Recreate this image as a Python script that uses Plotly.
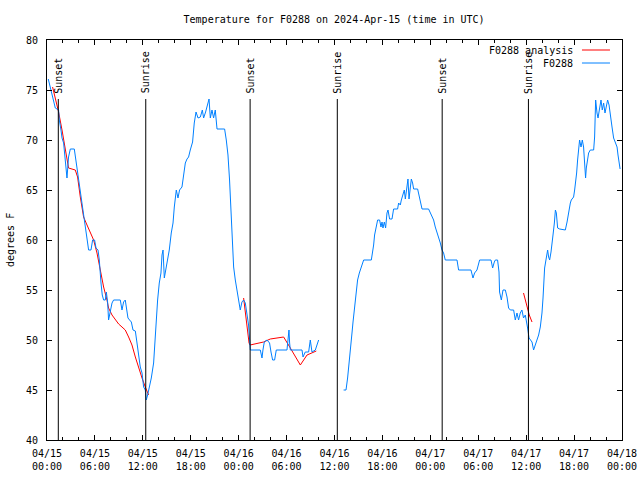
import pandas as pd
import plotly.graph_objects as go

START = pd.Timestamp("2024-04-15 00:00")

# Observed temperature (hours after 2024-04-15 00:00 UTC, degrees F); None = gap
obs_hours = [0.16, 0.41, 0.83, 1.04, 1.45, 1.54, 1.75, 1.88, 2.08, 2.29, 2.50, 2.70, 2.92, 3.42, 3.67,
             3.83, 4.08, 4.26, 4.51, 4.71, 4.92, 5.01, 5.21, 5.51, 5.71, 5.96, 6.14, 6.39, 6.55, 6.76,
             6.92, 7.09, 7.30, 7.43, 7.59, 7.71, 7.93, 8.14, 8.34, 9.18, 9.39, 9.59, 9.80, 9.93, 10.14,
             10.34, 10.56, 10.77, 11.06, 11.27, 11.47, 11.68, 11.90, 12.10, 12.31, 12.43, 12.60, 12.81,
             13.06, 13.35, 13.50, 13.65, 13.85, 14.06, 14.27, 14.40, 14.53, 14.69, 14.81, 15.03, 15.31,
             15.56, 15.78, 15.94, 16.19, 16.40, 16.60, 16.90, 17.11, 17.32, 17.53, 17.73, 17.94, 18.23,
             18.44, 18.66, 18.91, 19.20, 19.45, 19.61, 19.86, 20.04, 20.29, 20.45, 20.66, 20.86, 21.07,
             21.29, 22.24, 22.45, 22.66, 22.86, 23.04, 23.20, 23.37, 23.58, 23.79, 23.99, 24.20, 24.41,
             24.62, 24.83, 25.04, 25.24, 25.37, 25.46, 26.71, 26.92, 27.04, 27.21, 27.55, 27.87, 28.05,
             28.25, 28.50, 28.71, 30.05, 30.18, 30.30, 30.38, 30.47, 31.93, 32.06, 32.34, 32.76, 32.97,
             33.18, 33.60, 33.81, 34.01,
             None,
             37.14, 37.44, 37.64, 37.85, 38.07, 38.19, 38.32, 38.48, 38.61, 38.73, 38.89, 39.11, 39.32,
             39.52, 39.65, 40.61, 40.77, 40.90, 41.02, 41.20, 41.40, 41.65, 41.82, 41.95, 42.07, 42.24,
             42.40, 42.57, 42.70, 42.90, 43.20, 43.40, 43.90, 44.03, 44.24, 44.37, 44.58, 44.74, 44.87,
             45.08, 45.20, 45.33, 45.49, 45.62, 45.78, 45.91, 46.41, 46.53, 46.74, 46.96, 47.78, 48.00,
             48.21, 48.41, 48.62, 48.83, 49.04, 49.25, 49.46, 49.66, 49.87, 51.34, 51.54, 53.09, 53.34,
             53.54, 53.84, 54.17, 55.60, 55.80, 56.01, 56.14, 56.42, 56.60, 56.67, 56.89, 57.10, 57.39,
             57.60, 57.80, 58.02, 58.43, 58.64, 58.85, 59.05, 59.26, 59.47, 59.67, 59.89, 60.01, 60.18,
             60.36, 60.52, 60.73, 60.93, 61.14, 61.36, 61.56, 61.77, 61.98, 62.11, 62.19, 62.31, 62.52,
             62.69, 62.81, 62.94, 63.11, 63.24, 63.36, 63.53, 63.66, 63.78, 63.94, 64.19, 64.90, 65.12,
             65.24, 65.37, 65.53, 65.65, 65.78, 65.94, 66.07, 66.19, 66.32, 66.44, 66.57, 66.69, 66.87,
             67.03, 67.19, 67.32, 67.44, 67.53, 67.69, 67.82, 68.03, 68.45, 68.57, 68.70, 68.87, 69.00,
             69.16, 69.37, 69.53, 69.70, 69.87, 70.04, 70.20, 70.38, 70.54, 70.75, 70.95, 71.17, 71.38,
             71.50, 71.63, 71.76]
obs_temps = [76.1, 75.3, 74.0, 73.2, 73.0, 72.0, 71.0, 70.2, 69.7, 67.7, 66.2, 68.3, 69.1, 69.1, 67.7,
             66.7, 65.5, 64.7, 63.3, 61.7, 60.8, 60.0, 59.0, 59.0, 60.0, 60.0, 59.2, 59.0, 58.0, 55.7,
             54.5, 54.0, 54.0, 54.8, 53.8, 52.0, 52.8, 53.7, 54.0, 54.0, 53.0, 53.8, 54.0, 53.3, 52.2,
             52.0, 51.8, 51.0, 50.9, 49.7, 48.7, 47.3, 46.7, 45.3, 45.0, 44.0, 44.5, 45.2,
             46.2, 47.7, 50.0, 51.3, 54.0, 55.7, 56.7, 58.5, 59.0, 56.2, 56.7, 58.0, 59.0,
             60.7, 61.7, 63.3, 65.0, 64.2, 65.0, 65.3, 66.3, 67.7, 68.1, 68.3, 69.0, 69.8,
             71.7, 72.8, 72.2, 72.3, 73.0, 72.2, 72.8, 73.3, 74.1, 72.2, 73.0, 72.2, 73.0,
             71.1, 71.1, 70.0, 68.5, 66.0, 62.3, 59.0, 57.3, 56.0, 55.0, 54.0, 53.0, 53.8,
             54.0, 53.7, 52.7, 51.5, 50.0, 49.0, 49.0, 48.2, 49.0, 49.8, 50.0, 49.7, 48.8,
             48.0, 48.0, 49.0, 49.0, 50.3, 51.0, 49.7, 49.0, 49.0, 48.3, 48.8, 48.8, 50.0,
             48.8, 49.0, 49.5, 50.0,
             None,
             45.0, 45.0, 46.2, 47.7, 49.2, 50.7, 51.8, 53.2, 54.3, 55.3, 56.0, 56.7, 57.3,
             57.8, 58.0, 58.0, 58.7, 59.5, 60.5, 61.3, 62.0, 62.0, 61.3, 61.8, 61.2, 61.8,
             61.2, 62.7, 63.0, 62.1, 62.1, 63.1, 63.1, 63.7, 63.5, 64.0, 64.7, 65.0, 64.1,
             65.3, 66.1, 64.1, 65.5, 66.1, 65.7, 65.1, 65.1, 64.7, 63.8, 63.1, 63.1, 62.7,
             62.3, 62.0, 61.3, 60.8, 60.3, 59.7, 59.0, 58.7, 58.0, 58.0, 57.0, 57.0, 56.2,
             56.7, 57.0, 58.0, 58.0, 57.2, 57.8, 58.0, 58.0, 56.8, 54.8, 54.0, 55.0, 55.0,
             54.3, 53.2, 53.0, 53.0, 52.0, 52.7, 52.0, 52.7, 53.0, 52.2, 52.5, 51.7, 51.2,
             50.2, 50.0, 49.8, 49.0, 49.5, 50.0, 50.5, 51.3, 52.7, 54.2, 55.7, 57.2, 58.2,
             59.0, 58.3, 58.0, 58.8, 59.5, 60.5, 61.7, 63.0, 62.7, 61.2, 61.1, 61.0, 61.8,
             62.5, 62.8, 63.7, 64.0, 64.2, 64.3, 65.0, 65.7, 66.7, 68.0, 69.3, 70.0, 69.3,
             70.0, 69.3, 67.2, 66.2, 67.2, 68.0, 68.7, 69.0, 69.0, 70.3, 74.0, 72.7, 72.2,
             73.0, 74.0, 73.0, 73.7, 72.7, 73.3, 74.0, 73.5, 72.3, 71.3, 70.2, 69.7, 69.3,
             68.5, 67.7, 67.1]

# Analysis (smoothed) temperature
ana_hours = [0.70, 1.45, 1.88, 2.29, 2.70, 3.54, 3.83, 4.17, 4.58, 5.01, 5.63, 5.84, 6.26, 6.67, 7.09,
             7.51, 7.71, 8.14, 8.55, 8.97, 9.39, 9.80, 10.22, 10.64, 11.06, 11.47, 11.90, 12.31, 12.60,
             12.72,
             None,
             24.62, 25.04, 25.30, 25.43, 27.12, 27.96, 29.63, 30.47, 31.72, 32.56, 33.72,
             None,
             59.67, 60.10, 60.39, 60.73]
ana_temps = [75.3, 72.8, 71.0, 69.0, 67.2, 67.0, 66.3, 64.3, 62.3, 61.5, 60.3, 60.0, 58.7, 57.0, 55.3,
             54.0, 53.2, 52.5, 52.0, 51.6, 51.3, 51.0, 50.3, 49.5, 48.3, 47.2, 46.2, 45.3, 44.7,
             44.5,
             None,
             54.2, 51.7, 49.7, 49.5, 49.8, 50.1, 50.3, 49.2, 47.5, 48.5, 48.9,
             None,
             54.7, 53.3, 52.5, 51.8]

sun_events = ["Sunset", "Sunrise", "Sunset", "Sunrise", "Sunset", "Sunrise"]
sun_times = ["2024-04-15 01:25", "2024-04-15 12:22", "2024-04-16 01:26",
             "2024-04-16 12:21", "2024-04-17 01:29", "2024-04-17 12:17"]

legend_names = ["F0288 analysis", "F0288"]
RED = "#ff0000"
BLUE = "#0080ff"
FONT = "DejaVu Sans Mono"


def to_time(hours):
    return [None if h is None else START + pd.Timedelta(hours=h) for h in hours]


fig = go.Figure()
fig.add_trace(go.Scatter(x=to_time(ana_hours), y=ana_temps, mode="lines",
                         line=dict(color=RED, width=1), name=legend_names[0],
                         connectgaps=False, showlegend=False))
fig.add_trace(go.Scatter(x=to_time(obs_hours), y=obs_temps, mode="lines",
                         line=dict(color=BLUE, width=1), name=legend_names[1],
                         connectgaps=False, showlegend=False))

for ev, t in zip(sun_events, sun_times):
    fig.add_shape(type="line", xref="x", yref="y", x0=t, x1=t, y0=40, y1=74.1,
                  line=dict(color="black", width=1))
    fig.add_annotation(x=t, y=74.55, xref="x", yref="y", text=ev, textangle=-90,
                       showarrow=False, xanchor="center", yanchor="bottom",
                       font=dict(family=FONT, size=10, color="black"), borderpad=0)

# manual legend (text left, line sample right) as in the original
for name, color, ly in zip(legend_names, [RED, BLUE], [0.975, 0.9425]):
    fig.add_annotation(x=0.9165, y=ly, xref="paper", yref="paper", text=name,
                       showarrow=False, xanchor="right", yanchor="middle",
                       font=dict(family=FONT, size=10, color="black"), borderpad=0)
    fig.add_shape(type="line", xref="paper", yref="paper", x0=0.9304, x1=0.9791,
                  y0=ly, y1=ly, line=dict(color=color, width=1))

fig.add_annotation(x=-0.0643, y=0.5, xref="paper", yref="paper", text="degrees F",
                   textangle=-90, showarrow=False, xanchor="center", yanchor="middle",
                   font=dict(family=FONT, size=10, color="black"))

fig.update_layout(
    width=640, height=480,
    margin=dict(l=47, r=18, t=40, b=40, autoexpand=False),
    paper_bgcolor="white", plot_bgcolor="white",
    font=dict(family=FONT, size=10, color="black"),
    title=dict(text="Temperature for F0288 on 2024-Apr-15 (time in UTC)",
               x=0.522, xref="container", y=1 - 19 / 480, yref="container",
               xanchor="center", yanchor="middle",
               font=dict(family=FONT, size=10, color="black")),
    showlegend=False,
    hovermode=False,
)
fig.update_xaxes(
    type="date", range=["2024-04-15 00:00", "2024-04-18 00:00"],
    tick0="2024-04-15 00:00", dtick=6 * 3600 * 1000,
    tickformat="%m/%d<br>%H:%M", ticks="inside", ticklen=5, tickcolor="black",
    minor=dict(dtick=2 * 3600 * 1000, ticks="inside", ticklen=3, tickcolor="black"),
    showline=True, linecolor="black", linewidth=1, mirror="ticks",
    showgrid=False, zeroline=False, ticklabelstandoff=4, automargin=False,
)
fig.update_yaxes(
    range=[40, 80], dtick=5, ticks="inside", ticklen=5, tickcolor="black",
    showline=True, linecolor="black", linewidth=1, mirror="ticks",
    showgrid=False, zeroline=False, ticklabelstandoff=6, automargin=False,
)

fig.write_html("out.html",
               config={"displayModeBar": False},
               post_script="document.body.style.margin='0px';"
                           "document.body.style.overflow='hidden';")
